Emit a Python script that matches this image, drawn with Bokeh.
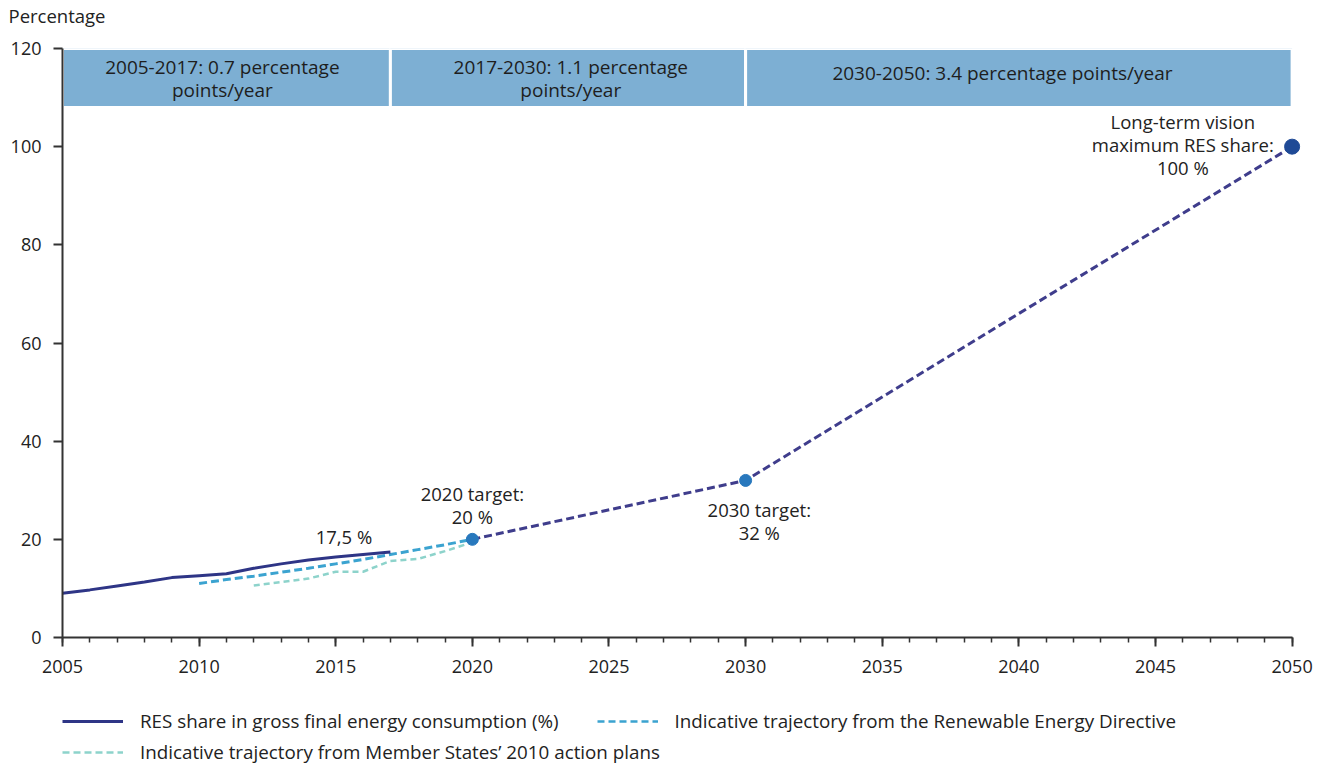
from bokeh.plotting import figure
from bokeh.layouts import column
from bokeh.models import Legend, LegendItem, FixedTicker, Range1d
from bokeh.core.properties import value
from bokeh.embed import file_html
from bokeh.resources import INLINE

FONT = "Open Sans"

# --- data -------------------------------------------------------------
res_years = [2005, 2006, 2007, 2008, 2009, 2010, 2011, 2012, 2013, 2014, 2015, 2016, 2017]
res_share = [9.0, 9.7, 10.5, 11.3, 12.2, 12.6, 13.0, 14.1, 15.0, 15.8, 16.4, 16.9, 17.4]

red_years = [2010, 2011, 2012, 2013, 2014, 2015, 2016, 2017, 2018, 2019, 2020]
red_traj = [11.0, 11.8, 12.5, 13.3, 14.1, 15.0, 15.9, 16.9, 17.9, 18.9, 20.0]

nreap_years = [2012, 2013, 2014, 2015, 2016, 2017, 2018, 2019, 2020]
nreap_traj = [10.6, 11.3, 12.0, 13.4, 13.4, 15.6, 16.0, 17.6, 19.4]

target_years = [2020, 2030, 2050]
target_vals = [20, 32, 100]

band_start = [2005, 2017, 2030]
band_end = [2017, 2030, 2050]
band_bottom = [108, 108, 108]
band_top = [120, 120, 120]
band_labels = ["2005-2017: 0.7 percentage\npoints/year",
               "2017-2030: 1.1 percentage\npoints/year",
               "2030-2050: 3.4 percentage points/year"]

x_ticks = [2005, 2010, 2015, 2020, 2025, 2030, 2035, 2040, 2045, 2050]
x_minor = list(range(2005, 2051))
y_ticks = [0, 20, 40, 60, 80, 100, 120]

legend_labels = ["RES share in gross final energy consumption (%)",
                 "Indicative trajectory from the Renewable Energy Directive",
                 "Indicative trajectory from Member States\u2019 2010 action plans"]

C_RES = "#2e3586"
C_RED = "#3ba3d0"
C_NREAP = "#8dd3cb"
C_TGT = "#3f3d8c"

W = 1327

# --- header strip (axis unit title) -------------------------------------
hdr = figure(width=W, height=34, output_backend="svg", toolbar_location=None,
             x_axis_location=None, y_axis_location=None,
             x_range=Range1d(0, 1), y_range=Range1d(0, 1),
             min_border=0, border_fill_color="white", background_fill_color="white")
hdr.outline_line_color = None
hdr.grid.visible = False
hdr.title.text = "Percentage"
hdr.title.align = "left"
hdr.title.vertical_align = "top"
hdr.title.offset = -54
hdr.title.standoff = 4
hdr.title.text_font = FONT
hdr.title.text_font_size = "18.5px"
hdr.title.text_font_style = "normal"
hdr.title.text_color = "#222222"

# --- main figure ------------------------------------------------------
p = figure(width=W, height=656, output_backend="svg", toolbar_location=None,
           x_range=Range1d(2005, 2050.6), y_range=Range1d(0, 120),
           min_border_left=62, min_border_right=19, min_border_top=14, min_border_bottom=53,
           background_fill_color="white", border_fill_color="white")
p.outline_line_color = None
p.xgrid.visible = False
p.ygrid.visible = False

AX = "#333333"
for ax in (p.xaxis[0], p.yaxis[0]):
    ax.axis_line_color = AX
    ax.axis_line_width = 2
    ax.major_tick_line_color = AX
    ax.major_tick_line_width = 2
    ax.major_tick_in = 0
    ax.minor_tick_in = 0
    ax.major_label_text_font = FONT
    ax.major_label_text_font_size = "18px"
    ax.major_label_text_color = "#222222"

p.xaxis.ticker = FixedTicker(ticks=x_ticks, minor_ticks=x_minor)
p.xaxis.bounds = (2005, 2050)
p.xaxis.major_tick_out = 9
p.xaxis.minor_tick_out = 5
p.xaxis.minor_tick_line_color = AX
p.xaxis.minor_tick_line_width = 1.5
p.xaxis.major_label_standoff = 13

p.yaxis.ticker = FixedTicker(ticks=y_ticks)
p.yaxis.major_tick_out = 9
p.yaxis.minor_tick_line_color = None
p.yaxis.major_label_standoff = 12

# header bands
p.quad(left=band_start, right=band_end, bottom=band_bottom, top=band_top,
       fill_color="#7dafd3", line_color="white", line_width=3)
band_x = [2010.85, 2023.6, 2039.4]
band_y = [113.9, 113.9, 115.0]
p.text(x=band_x, y=band_y, text=band_labels, text_align="center", text_baseline="middle",
       text_font=value(FONT), text_font_size="19px", text_color="#1e1e1e", text_line_height=0.87)

# series
r_nreap = p.line(nreap_years, nreap_traj, line_color=C_NREAP, line_width=2.5, line_dash="6 4")
r_red = p.line(red_years, red_traj, line_color=C_RED, line_width=3, line_dash="8 4")
r_res = p.line(res_years, res_share, line_color=C_RES, line_width=3)
p.line(target_years, target_vals, line_color=C_TGT, line_width=3, line_dash="8 4")
p.scatter(target_years[:2], target_vals[:2], size=12, color="#2878bd")
p.scatter(target_years[2:], target_vals[2:], size=15, color="#1f4a96")

# annotations
ann_x = [2015.3, 2020.0, 2030.5, 2046.0]
ann_y = [20.6, 27.0, 23.8, 100.4]
ann_text = ["17,5 %", "2020 target:\n20 %", "2030 target:\n32 %",
            "Long-term vision\nmaximum RES share:\n100 %"]
p.text(x=ann_x, y=ann_y, text=ann_text, text_align="center", text_baseline="middle",
       text_font=value(FONT), text_font_size="18.5px", text_color="#222222", text_line_height=0.91)

# --- legend strip -----------------------------------------------------
lf = figure(width=W, height=76, output_backend="svg", toolbar_location=None,
            x_axis_location=None, y_axis_location=None,
            x_range=Range1d(0, 1), y_range=Range1d(0, 1),
            min_border=0, border_fill_color="white", background_fill_color="white")
lf.outline_line_color = None
lf.grid.visible = False
# legend swatches only (drawn outside the visible range)
g_res = lf.line([5, 6], [5, 6], line_color=C_RES, line_width=3)
g_red = lf.line([5, 6], [5, 6], line_color=C_RED, line_width=2.5, line_dash="7 4")
g_nreap = lf.line([5, 6], [5, 6], line_color=C_NREAP, line_width=2.5, line_dash="7 4")

common = dict(orientation="horizontal", glyph_width=61, glyph_height=20, label_height=20,
              label_standoff=17, spacing=38, padding=0, margin=0, border_line_color=None,
              background_fill_alpha=0, label_text_font=FONT, label_text_font_size="18.8px",
              label_text_color="#222222")
leg1 = Legend(items=[LegendItem(label=legend_labels[0], renderers=[g_res]),
                     LegendItem(label=legend_labels[1], renderers=[g_red])],
              location=(0, 32), **common)
leg2 = Legend(items=[LegendItem(label=legend_labels[2], renderers=[g_nreap])],
              location=(0, 1), **common)
lf.add_layout(leg1)
lf.add_layout(leg2)

layout = column(hdr, p, lf, spacing=0)
open("out.html", "w").write(file_html(layout, INLINE))
